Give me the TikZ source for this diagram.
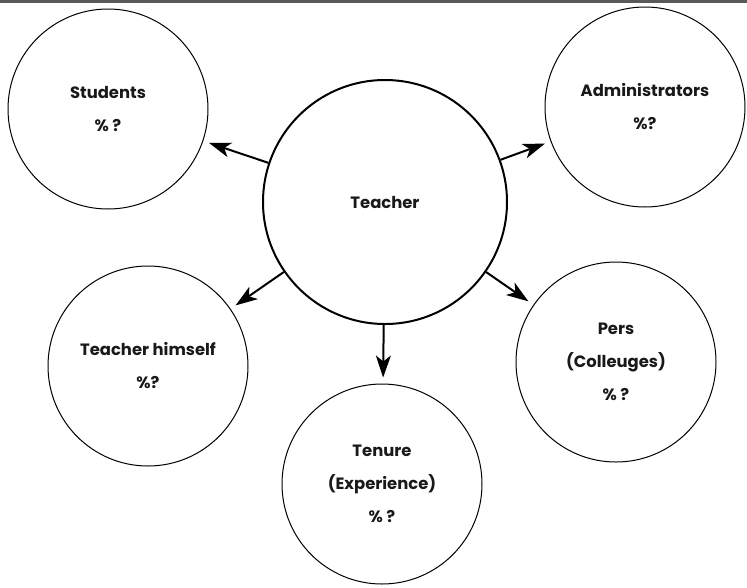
\documentclass[tikz,border=0pt]{standalone}
\usepackage{fontspec}
\setmainfont{Poppins}
\usetikzlibrary{arrows.meta}
\begin{document}
\begin{tikzpicture}[x=1pt,y=-1pt,
        bubble/.style={draw, circle, minimum size=200pt, inner sep=0pt, line width=1pt,
            align=center, text=black!90, font=\fontsize{16.4}{33}\selectfont\bfseries},
        link/.style={-{Stealth[length=22pt,width=15pt,inset=6pt]}, line width=2pt, shorten >=6pt}]
        \useasboundingbox (0,0) rectangle (747,587);
        % Top rule
        \draw[line width=3pt, black!65] (0,1) -- (747,1);

        % Centre
        \node[bubble, minimum size=244pt, line width=2pt] (teacher) at (385,202) {Teacher};
        % Around
        \node[bubble] (students) at (108,109) {Students\\\% ?};
        \node[bubble] (admins) at (645,107) {Administrators\\\%?};
        \node[bubble] (himself) at (148,366) {Teacher himself\\\%?};
        \node[bubble] (tenure) at (382,484) {Tenure\\(Experience)\\\% ?};
        \node[bubble] (peers) at (616,362) {Pers\\(Colleuges)\\\% ?};

        % Arrows
        \draw[link] (teacher) -- (students);
        \draw[link] (teacher) -- (admins);
        \draw[link] (teacher) -- (himself);
        \draw[link] (teacher) -- (tenure);
        \draw[link] (teacher) -- (peers);
    \end{tikzpicture}
\end{document}
